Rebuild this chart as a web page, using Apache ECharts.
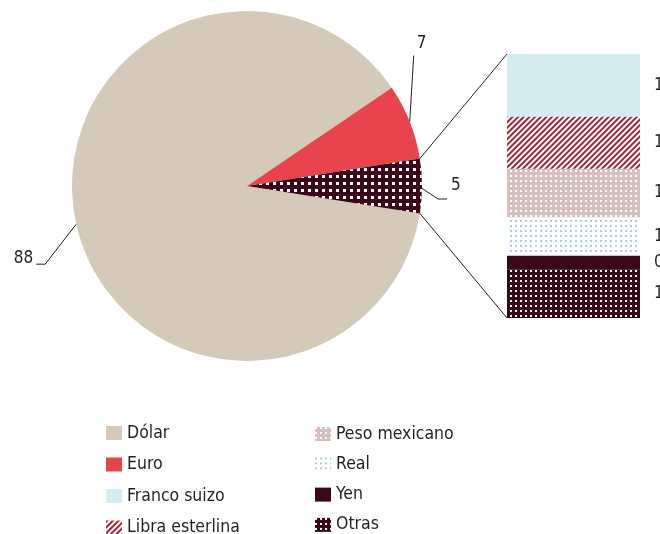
<!DOCTYPE html>
<html><head><meta charset="utf-8">
<script src="https://cdn.jsdelivr.net/npm/echarts@6/dist/echarts.min.js"></script>
<style>html,body{margin:0;padding:0;background:#fff}#c{width:660px;height:534px}</style>
</head><body><div id="c"></div>
<script>
// ---- data ----
const pieNames = ['Dólar', 'Euro', 'Otras'];
const pieValues = [88, 7, 5];
// breakdown of "Otras" (stacked bottom -> top)
const barNames = ['Otras', 'Yen', 'Real', 'Peso mexicano', 'Libra esterlina', 'Franco suizo'];
const barValues = [1.4, 0.4, 1.1, 1.4, 1.5, 1.8];
const legendLeft = ['Dólar', 'Euro', 'Franco suizo', 'Libra esterlina'];
const legendRight = ['Peso mexicano', 'Real', 'Yen', 'Otras'];

// ---- style ----
const FONT = "'Liberation Sans Narrow','DejaVu Sans Condensed','Arial Narrow',sans-serif";
const TXT = '#231f20';
const CX = 247, CY = 186, R = 175, START = 351;
const dots = (color, d, g) => ({symbol: 'rect', symbolSize: 1, color: color, dashArrayX: [d, g], dashArrayY: [d, g], rotation: 0});
const styles = {
  'Dólar': {color: '#d5c9ba'},
  'Euro': {color: '#e8444e'},
  'Franco suizo': {color: '#d5edf1'},
  'Libra esterlina': {color: '#ffffff', decal: {symbol: 'rect', symbolSize: 1, color: '#a3253a', dashArrayX: [1, 0], dashArrayY: [1.6, 2], rotation: -Math.PI / 4}},
  'Peso mexicano': {color: '#d5bfbf', decal: dots('#ffffff', 2, 3)},
  'Real': {color: '#ffffff', decal: dots('#a9cfe0', 2, 3)},
  'Yen': {color: '#3a0619'},
  'Otras': {color: '#3a0619', decal: dots('#ffffff', 2, 3)}
};
const pieOtrasStyle = {color: '#3a0619', decal: dots('#ffffff', 2.5, 3.5)};

const pieTotal = pieValues.reduce((a, b) => a + b, 0);
const barTotal = barValues.reduce((a, b) => a + b, 0);
function angleAt(frac) { return (START - frac * 360) * Math.PI / 180; }
function edgePoint(rad) { return [CX + R * Math.cos(rad), CY - R * Math.sin(rad)]; }
function midAngle(i) {
  let before = 0; for (let k = 0; k < i; k++) before += pieValues[k];
  return angleAt((before + pieValues[i] / 2) / pieTotal);
}

const chart = echarts.init(document.getElementById('c'), null, {renderer: 'canvas'});

const legendCommon = {
  orient: 'vertical', icon: 'rect', itemWidth: 16, itemHeight: 14, selectedMode: false,
  padding: 0, height: 200, width: 200,
  textStyle: {fontSize: 17.5, lineHeight: 20, color: TXT, fontFamily: FONT}
};

const option = {
  animation: false,
  backgroundColor: '#ffffff',
  legend: [
    Object.assign({}, legendCommon, {data: legendLeft, left: 106, top: 423, itemGap: 11.5}),
    Object.assign({}, legendCommon, {data: legendRight, left: 315, top: 424, itemGap: 10.3})
  ],
  grid: {left: 507, top: 54, width: 133, height: 264},
  xAxis: {type: 'category', data: ['Otras'], show: false},
  yAxis: {type: 'value', min: 0, max: barTotal, show: false},
  series: [
    {
      type: 'pie', name: 'Monedas', center: [CX, CY], radius: R, startAngle: START, clockwise: true,
      avoidLabelOverlap: false, silent: true,
      data: pieNames.map((n, i) => ({name: n, value: pieValues[i], itemStyle: n === 'Otras' ? pieOtrasStyle : styles[n]})),
      label: {show: true, position: 'outside', formatter: '{c}', fontSize: 17, color: TXT, fontFamily: FONT},
      labelLine: {show: true, length: 10, length2: 10, lineStyle: {color: TXT, width: 1}},
      labelLayout: function (p) {
        const i = p.dataIndex;
        const e = edgePoint(midAngle(i));
        if (i === 0) {
          const p1 = [e[0] - 31, e[1] + 40], p2 = [p1[0] - 9, p1[1]];
          return {x: p2[0] - 3, y: p2[1] - 6, align: 'right', verticalAlign: 'middle', labelLinePoints: [e, p1, p2]};
        } else if (i === 1) {
          const p1 = [e[0] + 4, e[1] - 66];
          return {x: p1[0] + 8, y: p1[1] - 12, align: 'center', verticalAlign: 'middle', labelLinePoints: [e, p1, p1]};
        } else {
          const s = [e[0] - 2, e[1] + 1];
          const p1 = [s[0] + 18, s[1] + 12], p2 = [p1[0] + 9, p1[1]];
          return {x: p2[0] + 4, y: e[1], align: 'left', verticalAlign: 'middle', labelLinePoints: [s, p1, p2]};
        }
      }
    }
  ].concat(barNames.map((n, i) => ({
    type: 'bar', name: n, stack: 'otras', barWidth: '100%', silent: true,
    data: [barValues[i]],
    itemStyle: styles[n],
    label: {show: true, position: 'right', distance: 14, fontSize: 17, color: TXT, fontFamily: FONT,
      formatter: (d) => d.value.toFixed(1).replace('.', ',')}
  })))
};
chart.setOption(option);

// connector lines between the "Otras" slice and the breakdown bar
const oi = pieNames.indexOf('Otras');
let before = 0; for (let k = 0; k < oi; k++) before += pieValues[k];
const pTop = edgePoint(angleAt(before / pieTotal));
const pBot = edgePoint(angleAt((before + pieValues[oi]) / pieTotal));
const barX = chart.convertToPixel({gridIndex: 0}, [0, 0])[0] - 133 / 2;
const yTop = chart.convertToPixel({yAxisIndex: 0}, barTotal);
const yBot = chart.convertToPixel({yAxisIndex: 0}, 0);
chart.setOption({
  graphic: [
    {type: 'line', silent: true, z: 10, shape: {x1: pTop[0], y1: pTop[1], x2: barX, y2: yTop}, style: {stroke: TXT, lineWidth: 1}},
    {type: 'line', silent: true, z: 10, shape: {x1: pBot[0], y1: pBot[1], x2: barX, y2: yBot}, style: {stroke: TXT, lineWidth: 1}}
  ]
});
</script>
</body></html>
